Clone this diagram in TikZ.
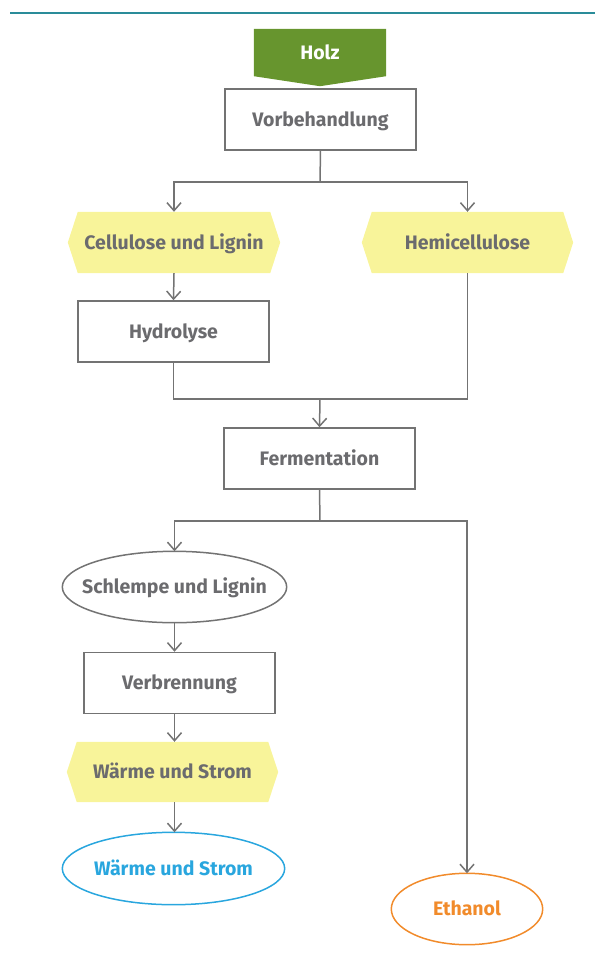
\documentclass[tikz,border=0pt]{standalone}
\usepackage{fontspec}
\setmainfont{Fira Sans}
\usetikzlibrary{arrows.meta,calc,backgrounds}

\definecolor{linegray}{HTML}{737373}
\definecolor{textgray}{HTML}{6B6B6E}
\definecolor{hexyellow}{HTML}{F8F49A}
\definecolor{woodgreen}{HTML}{67952E}
\definecolor{heatblue}{HTML}{29A6DE}
\definecolor{fuelorange}{HTML}{F18B2B}
\definecolor{ruleteal}{HTML}{2A8C99}

\tikzset{
  label font/.style={font=\bfseries\fontsize{19.5}{22}\selectfont,
    text height=13.5pt, text depth=0pt},
  procbox/.style={draw=linegray, line width=1.5pt, fill=white, rectangle,
    minimum width=191pt, minimum height=61pt, text=textgray, label font},
  hexbox/.style={rectangle, minimum width=212pt, minimum height=61pt,
    text=textgray, label font},
  ovalbox/.style={rectangle, inner sep=0pt, label font},
  ovalline/.style={line width=1.5pt},
  flow/.style={draw=linegray, line width=1.5pt,
    -{Straight Barb[length=8pt,width=14pt,line width=1.5pt]}},
  link/.style={draw=linegray, line width=1.5pt},
}

% yellow hexagon spanning a node's box, with pointed ends 10pt deep
\newcommand{\hexfill}[1]{%
  \fill[hexyellow] ($(#1.north west)+(10,0)$) -- ($(#1.north east)+(-10,0)$)
    -- (#1.east) -- ($(#1.south east)+(-10,0)$) -- ($(#1.south west)+(10,0)$)
    -- (#1.west) -- cycle;}
% ellipse inscribed in a node's box
\newcommand{\ovaldraw}[2]{%
  \path let \p1 = ($(#2.east)-(#2.west)$), \p2 = ($(#2.north)-(#2.south)$) in
    [draw=#1, ovalline] (#2.center) ellipse [x radius=0.5*\x1, y radius=0.5*abs(\y2)];}

\begin{document}
\begin{tikzpicture}[x=1pt, y=-1pt]
\useasboundingbox (0,0) rectangle (595,954);

% header rule
\draw[ruleteal, line width=1.6pt] (10,13) -- (595,13);

% nodes
\node[rectangle, minimum width=132pt, minimum height=47pt, text=white, label font]
  (holz) at (320,52.5) {Holz};
\node[procbox] (vor) at (320.5,119.5) {Vorbehandlung};
\node[hexbox] (cel) at (174,242.5) {Cellulose und Lignin};
\node[hexbox, minimum width=211pt] (hemi) at (467.5,242.5) {Hemicellulose};
\node[procbox] (hyd) at (173.5,331.5) {Hydrolyse};
\node[procbox] (fer) at (319.5,458.5) {Fermentation};
\node[ovalbox, text=textgray, minimum width=224pt, minimum height=71pt]
  (schl) at (174.5,587) {Schlempe und Lignin};
\node[procbox] (verb) at (179.5,683) {Verbrennung};
\node[hexbox, minimum width=211pt, minimum height=60pt] (wh) at (172.5,772) {Wärme und Strom};
\node[ovalbox, text=heatblue, minimum width=222pt, minimum height=72pt]
  (wo) at (173.5,868.5) {Wärme und Strom};
\node[ovalbox, text=fuelorange, minimum width=151pt, minimum height=71pt]
  (eth) at (467,909) {Ethanol};

% shape fills and outlines behind the labels
\begin{scope}[on background layer]
  \fill[woodgreen] (holz.north west) -- (holz.north east) -- (holz.south east)
    -- ($(holz.south)+(0,10)$) -- (holz.south west) -- cycle;
  \hexfill{cel}
  \hexfill{hemi}
  \hexfill{wh}
  \ovaldraw{linegray}{schl}
  \ovaldraw{heatblue}{wo}
  \ovaldraw{fuelorange}{eth}
\end{scope}

% branch points
\coordinate (split1) at (320,182);
\coordinate (merge) at (320,399);
\coordinate (split2) at (320,521);

% connectors
\draw[link] (vor.south) -- (split1);
\draw[flow] (split1) -| (cel.north);
\draw[flow] (split1) -| (hemi.north);
\draw[flow] (cel.south) -- (hyd.north);
\draw[link] (hyd.south) |- (merge);
\draw[link] (hemi.south) |- (merge);
\draw[flow] (merge) -- (fer.north);
\draw[link] (fer.south) -- (split2);
\draw[flow] (split2) -| (schl.north);
\draw[flow] (split2) -| (eth.north);
\draw[flow] (schl.south) -- (schl.south |- verb.north);
\draw[flow] (schl.south |- verb.south) -- (schl.south |- wh.north);
\draw[flow] (wh.south -| schl.south) -- (wo.north -| schl.south);
\end{tikzpicture}
\end{document}
